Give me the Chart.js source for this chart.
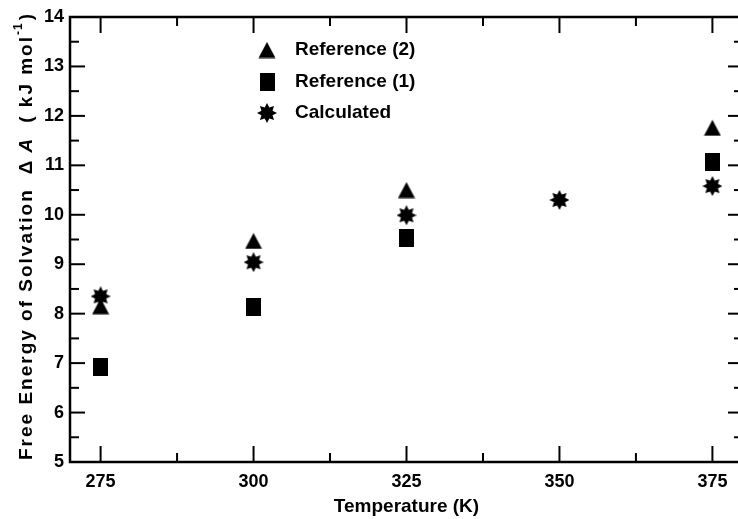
<!DOCTYPE html>
<html>
<head>
<meta charset="utf-8">
<script src="https://cdn.jsdelivr.net/npm/chart.js@4.4.0/dist/chart.umd.min.js"></script>
<style>
  html, body { margin: 0; padding: 0; background: #fff; overflow: hidden; }
  #wrap { position: absolute; left: 0; top: 0; width: 748px; height: 519px; }
</style>
</head>
<body>
<div id="wrap"><canvas id="graph"></canvas></div>
<script>
// data
const temperatures = [275, 300, 325, 350, 375]
const reference2 = [8.15, 9.47, 10.5, null, 11.76]
const reference1 = [6.92, 8.14, 9.53, null, 11.06]
const calculated = [8.35, 9.04, 9.99, 10.3, 10.58]
const seriesNames = ['Reference (2)', 'Reference (1)', 'Calculated']
const xTickLabels = [275, 300, 325, 350, 375]
const yTickLabels = [5, 6, 7, 8, 9, 10, 11, 12, 13, 14]
const xTitle = 'Temperature (K)'

const FAMILY = '"Liberation Sans", Arial, sans-serif'

// filled black markers
function makeMarker(kind) {
    const c = document.createElement('canvas')
    if (kind === 'triangle') { c.width = 18; c.height = 17 }
    else if (kind === 'square') { c.width = 15; c.height = 18 }
    else { c.width = 20; c.height = 20 }
    const g = c.getContext('2d')
    g.fillStyle = '#000'
    if (kind === 'triangle') {
        g.beginPath()
        g.moveTo(9, 0.5); g.lineTo(17.5, 16.5); g.lineTo(0.5, 16.5)
        g.closePath(); g.fill()
    } else if (kind === 'square') {
        g.fillRect(0, 0, 15, 18)
    } else {
        g.beginPath()
        for (let i = 0; i < 16; i++) {
            const r = i % 2 ? 6 : 10
            const a = i * Math.PI / 8 - Math.PI / 2
            const px = 10 + r * Math.cos(a), py = 10 + r * Math.sin(a)
            if (i === 0) g.moveTo(px, py); else g.lineTo(px, py)
        }
        g.closePath(); g.fill()
    }
    return c
}
const markers = [makeMarker('triangle'), makeMarker('square'), makeMarker('star')]

function points(values) {
    return temperatures.map((t, i) => ({x: t, y: values[i]})).filter(p => p.y !== null)
}

// frame with inward ticks on all four sides
const frame = {
    id: 'frame',
    beforeDatasetsDraw(chart) {
        const {ctx, chartArea: a, scales: {x, y}} = chart
        const line = (x1, y1, x2, y2) => { ctx.beginPath(); ctx.moveTo(x1, y1); ctx.lineTo(x2, y2); ctx.stroke() }
        ctx.save()
        ctx.strokeStyle = '#000'
        ctx.lineWidth = 2
        x.ticks.forEach(t => {
            const p = x.getPixelForValue(t.value)
            const len = xTickLabels.includes(t.value) ? 16 : 9
            line(p, a.bottom, p, a.bottom - len)
            line(p, a.top, p, a.top + len)
        })
        y.ticks.forEach(t => {
            const p = y.getPixelForValue(t.value)
            const len = yTickLabels.includes(t.value) ? 15 : 9
            line(a.left, p, a.left + len, p)
            line(a.right, p, a.right - len, p)
        })
        ctx.lineWidth = 2.5
        ctx.strokeRect(a.left, a.top, a.right - a.left, a.bottom - a.top)
        ctx.restore()
    }
}

// axis titles and legend
const texts = {
    id: 'texts',
    afterDraw(chart) {
        const {ctx, chartArea: a} = chart
        const bold = 'bold 19px ' + FAMILY
        ctx.save()
        ctx.fillStyle = '#000'

        // x title
        ctx.font = bold
        ctx.textAlign = 'center'
        ctx.textBaseline = 'middle'
        ctx.fillText(xTitle, (a.left + a.right) / 2, 507)

        // y title, rotated, drawn letter by letter with extra spacing
        ctx.save()
        ctx.translate(32, 460)
        ctx.rotate(-Math.PI / 2)
        ctx.textAlign = 'left'
        ctx.textBaseline = 'alphabetic'
        let cx = 0
        const put = (s, font, dy, gap) => {
            ctx.font = font
            for (const ch of s) {
                ctx.fillText(ch, cx, dy || 0)
                cx += ctx.measureText(ch).width + (gap === undefined ? 2 : gap)
            }
        }
        put('Free Energy of Solvation', bold)
        cx += 14
        put('\u0394', bold)
        cx += 6
        put('A', 'italic bold 19px ' + FAMILY)
        cx += 14
        put('( kJ mol', bold)
        put('-1', 'bold 12px ' + FAMILY, -10, 1)
        cx += 2
        put(')', bold)
        ctx.restore()

        // legend
        ctx.font = bold
        ctx.textAlign = 'left'
        ctx.textBaseline = 'middle'
        chart.data.datasets.forEach((ds, i) => {
            const yy = 50 + i * 31.5
            const m = markers[i]
            ctx.drawImage(m, 267 - m.width / 2, yy - m.height / 2)
            ctx.fillText(ds.label, 295, yy)
        })
        ctx.restore()
    }
}

document.addEventListener('DOMContentLoaded', function() {
    const context = document.querySelector('#graph').getContext('2d')
    new Chart(context, {
        type: 'scatter',
        data: {
            datasets: [
                {label: seriesNames[0], data: points(reference2), pointStyle: markers[0]},
                {label: seriesNames[1], data: points(reference1), pointStyle: markers[1]},
                {label: seriesNames[2], data: points(calculated), pointStyle: markers[2]},
            ],
        },
        options: {
            responsive: true,
            maintainAspectRatio: false,
            animation: false,
            layout: {padding: {top: 17, right: 1, left: 0, bottom: 0}},
            plugins: {
                legend: {display: false},
                tooltip: {enabled: false},
            },
            scales: {
                x: {
                    type: 'linear',
                    min: 270,
                    max: 380,
                    grid: {display: false, drawTicks: false},
                    border: {display: false},
                    ticks: {
                        stepSize: 12.5,
                        includeBounds: false,
                        autoSkip: false,
                        maxRotation: 0,
                        padding: 9,
                        color: '#000',
                        font: {family: FAMILY, size: 18, weight: 'bold'},
                        callback: v => xTickLabels.includes(v) ? String(v) : '',
                    },
                    afterFit: s => { s.height = 57 },
                },
                y: {
                    type: 'linear',
                    min: 5,
                    max: 14,
                    grid: {display: false, drawTicks: false},
                    border: {display: false},
                    ticks: {
                        stepSize: 0.5,
                        autoSkip: false,
                        padding: 6,
                        color: '#000',
                        font: {family: FAMILY, size: 18, weight: 'bold'},
                        callback: v => yTickLabels.includes(v) ? String(v) : '',
                    },
                    afterFit: s => { s.width = 70 },
                },
            },
        },
        plugins: [frame, texts],
    })
})
</script>
</body>
</html>
